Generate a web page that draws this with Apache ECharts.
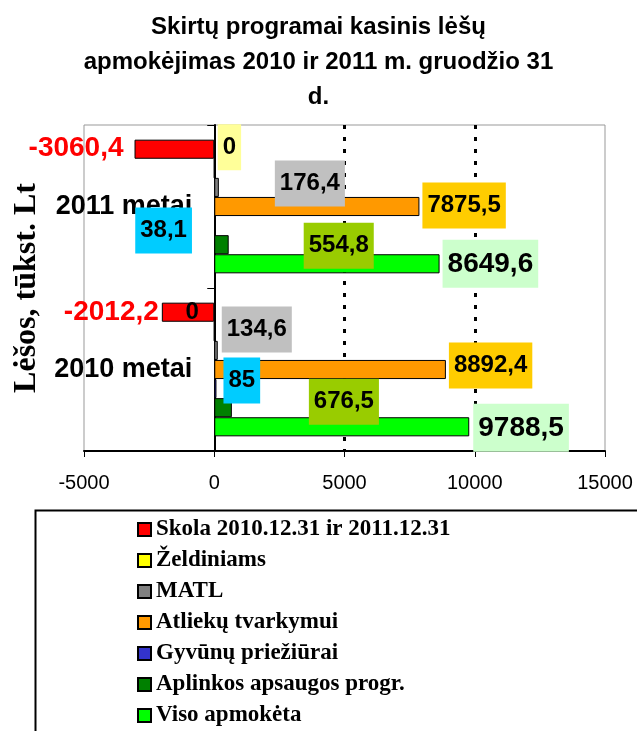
<!DOCTYPE html>
<html>
<head>
<meta charset="utf-8">
<style>
  html, body { margin: 0; padding: 0; background: #fff; }
  #chart { width: 637px; height: 731px; }
</style>
<script src="https://cdn.jsdelivr.net/npm/echarts@6/dist/echarts.min.js"></script>
</head>
<body>
<div id="chart"></div>
<script>
// data
const years = ['2011 metai', '2010 metai']
const seriesNames = ['Skola 2010.12.31 ir 2011.12.31', 'Želdiniams', 'MATL', 'Atliekų tvarkymui', 'Gyvūnų priežiūrai', 'Aplinkos apsaugos progr.', 'Viso apmokėta']
const skola = [-3060.4, -2012.2]
const zeldiniams = [0, 0]
const matl = [176.4, 134.6]
const atliekos = [7875.5, 8892.4]
const gyvunai = [38.1, 85]
const aplinka = [554.8, 676.5]
const viso = [8649.6, 9788.5]
const xTicks = { min: -5000, max: 15000, step: 5000 }

// look of the series
const barColors = ['#FF0000', '#FFFF00', '#808080', '#FF9900', '#3333CC', '#008000', '#00FF00']
const labelBg = ['transparent', '#FFFF99', '#C0C0C0', '#FFCC00', '#00CCFF', '#99CC00', '#CCFFCC']
// label shifts as placed by hand in the original (per series, per year)
const labelShift = [
  [{ position: 'left', distance: 11, offset: [0, -1] }, { position: 'left', distance: 3, offset: [0, 0] }],
  [{ offset: [3, -21] }, { position: 'left', distance: 15, offset: [0, -19], backgroundColor: 'transparent', padding: 0 }],
  [{ offset: [56, -4] }, { offset: [4, -21] }],
  [{ offset: [3, -1] }, { offset: [3, -4] }],
  [{ offset: [-80, 5] }, { offset: [7, -8] }],
  [{ offset: [75, 1] }, { offset: [77, -6] }],
  [{ offset: [3, 0] }, { offset: [4, 1] }]
]

const allValues = [skola, zeldiniams, matl, atliekos, gyvunai, aplinka, viso]
const sans = 'Liberation Sans, Arial, sans-serif'
const serif = 'Liberation Serif, Times New Roman, serif'

const gridLeft = 84
const gridRight = 32
// the category axis sits on the value 0 line
const zeroShift = (0 - xTicks.min) / (xTicks.max - xTicks.min) * (637 - gridLeft - gridRight)

const chart = echarts.init(document.getElementById('chart'))

const seriesArr = allValues.map((vals, i) => {
  const big = i === 0 || i === 6
  const fs = big ? 28 : 24
  return {
    name: seriesNames[i],
    type: 'bar',
    barGap: '0%',
    barCategoryGap: '18%',
    itemStyle: { color: barColors[i], borderColor: '#000', borderWidth: 1 },
    label: {
      show: true,
      position: 'right',
      distance: 0,
      formatter: p => String(p.value).replace('.', ','),
      fontFamily: sans,
      fontWeight: 'bold',
      fontSize: fs,
      lineHeight: fs,
      color: i === 0 ? '#FF0000' : '#000',
      backgroundColor: labelBg[i],
      padding: i === 0 ? 0 : (big ? [10, 5, 10, 5] : [11, 5, 11, 5])
    },
    data: vals.map((v, j) => ({ value: v, label: labelShift[i][j] }))
  }
})

const option = {
  animation: false,
  title: {
    text: 'Skirtų programai kasinis lėšų\napmokėjimas 2010 ir 2011 m. gruodžio 31\nd.',
    left: 'center',
    top: 5,
    textStyle: { fontFamily: sans, fontWeight: 'bold', fontSize: 24, lineHeight: 35, color: '#000' }
  },
  legend: {
    orient: 'vertical',
    left: 137,
    top: 518,
    height: 300,
    padding: 0,
    itemWidth: 13,
    itemHeight: 13,
    itemGap: 8,
    itemTextGap: 7,
    icon: 'rect',
    data: seriesNames,
    textStyle: { fontFamily: serif, fontWeight: 'bold', fontSize: 23, lineHeight: 22, color: '#000' }
  },
  graphic: [{
    type: 'rect',
    left: 33,
    top: 508,
    shape: { width: 700, height: 300 },
    style: { fill: 'none', stroke: '#000', lineWidth: 2 },
    z: -1
  }],
  grid: {
    left: gridLeft,
    right: gridRight,
    top: 125,
    bottom: 280,
    outerBoundsMode: 'none',
    containLabel: false,
    show: true,
    borderColor: '#999',
    borderWidth: 1
  },
  xAxis: {
    type: 'value',
    min: xTicks.min,
    max: xTicks.max,
    interval: xTicks.step,
    axisLine: { show: true, lineStyle: { color: '#000', width: 2 } },
    axisTick: { show: true, length: 6, lineStyle: { color: '#000', width: 1 } },
    axisLabel: { fontFamily: sans, fontSize: 20, color: '#000', margin: 22, formatter: v => String(v) },
    splitLine: {
      show: true,
      lineStyle: { color: ['transparent', 'transparent', '#000', '#000', 'transparent'], type: [4, 8], width: 3 }
    }
  },
  yAxis: {
    type: 'category',
    inverse: true,
    data: years,
    offset: -zeroShift,
    name: 'Lėšos, tūkst. Lt',
    nameLocation: 'middle',
    nameGap: 172,
    nameRotate: 90,
    nameTextStyle: { fontFamily: serif, fontWeight: 'bold', fontSize: 32, color: '#000' },
    axisLine: { show: true, onZero: false, lineStyle: { color: '#000', width: 2 } },
    axisTick: { show: true, length: 7, lineStyle: { color: '#000' } },
    axisLabel: { fontFamily: sans, fontWeight: 'bold', fontSize: 27, color: '#000', margin: 22 }
  },
  series: seriesArr
}

chart.setOption(option)
</script>
</body>
</html>
